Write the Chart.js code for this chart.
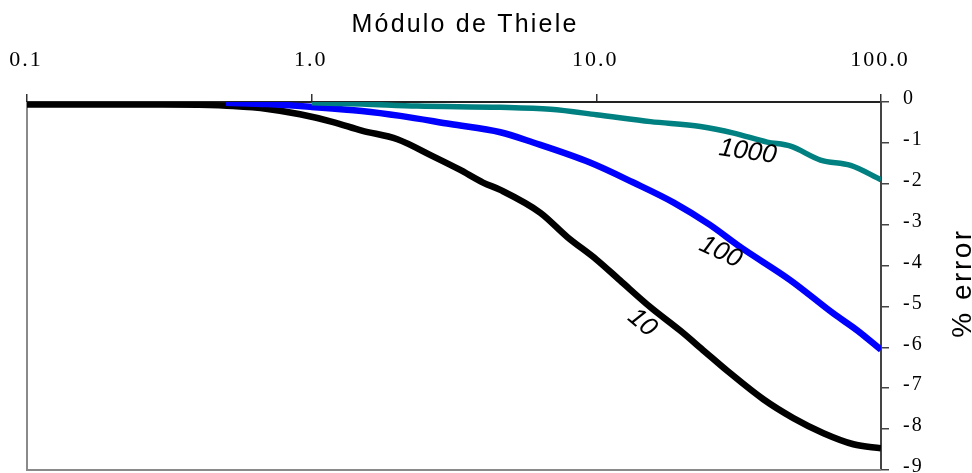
<!DOCTYPE html>
<html>
<head>
<meta charset="utf-8">
<script src="https://cdn.jsdelivr.net/npm/chart.js@4/dist/chart.umd.min.js"></script>
<style>
  html, body { margin: 0; padding: 0; background: #ffffff; }
  canvas { display: block; }
</style>
</head>
<body>
<canvas id="chart" width="972" height="473"></canvas>
<script>
// Thiele modulus (log scale) for each curve and the resulting % error
const phi10 = [0.1, 0.2, 0.3, 0.4, 0.53, 0.7, 0.91, 1.19, 1.5, 2.0, 2.67, 3.3, 4.0, 4.6, 6.36, 7.9, 10, 12.1, 15.5, 19.7, 24, 28.9, 38.6, 49.2, 62.8, 80, 100];
const err10 = [-0.06, -0.06, -0.06, -0.07, -0.1, -0.17, -0.3, -0.49, -0.7, -0.91, -1.33, -1.65, -1.97, -2.15, -2.71, -3.3, -3.85, -4.36, -5.02, -5.59, -6.1, -6.58, -7.27, -7.73, -8.1, -8.37, -8.47];

const phi100 = [0.5, 0.7, 1.0, 1.5, 2.05, 3.07, 4.6, 6.0, 9.5, 13.5, 18.7, 25, 32.1, 48.1, 68, 82.7, 100];
const err100 = [-0.02, -0.05, -0.12, -0.22, -0.34, -0.54, -0.74, -0.99, -1.48, -1.97, -2.46, -3.0, -3.55, -4.36, -5.17, -5.59, -6.06];

const phi1000 = [1.0, 1.5, 2.35, 4.6, 6.9, 10, 15.5, 23.2, 30.4, 39.8, 48.1, 61.3, 78.2, 100];
const err1000 = [-0.02, -0.05, -0.1, -0.13, -0.18, -0.31, -0.48, -0.6, -0.76, -0.98, -1.08, -1.42, -1.55, -1.9];

// Axis ticks
const xTickValues = [0.1, 1, 10, 100];
const xTickLabels = ['0.1', '1.0', '10.0', '100.0'];
const yTickValues = [0, -1, -2, -3, -4, -5, -6, -7, -8, -9];

// Curve labels, placed in data coordinates
const curveLabels = ['1000', '100', '10'];
const curveLabelX = [34.0, 27.3, 14.5];
const curveLabelY = [-1.22, -3.67, -5.4];
const curveLabelAngle = [8, 25, 40];

const toPoints = (xs, ys) => xs.map((x, i) => ({ x: x, y: ys[i] }));

const SERIF = "'Liberation Serif', 'Times New Roman', serif";
const SANS = "'Liberation Sans', Arial, sans-serif";

const framePlugin = {
  id: 'frame',
  beforeDraw(chart) {
    chart.ctx.letterSpacing = '2px';
  },
  beforeDatasetsDraw(chart) {
    const { ctx, chartArea: a } = chart;
    ctx.save();
    ctx.strokeStyle = '#8a8a8a';
    ctx.lineWidth = 2;
    ctx.beginPath();
    ctx.moveTo(a.left, a.top);
    ctx.lineTo(a.left, a.bottom);
    ctx.lineTo(a.right, a.bottom);
    ctx.stroke();
    ctx.restore();
  },
  afterDraw(chart) {
    const { ctx } = chart;
    const xs = chart.scales.x, ys = chart.scales.y;
    ctx.save();
    ctx.fillStyle = '#000000';

    // axis titles
    ctx.letterSpacing = '2.2px';
    ctx.font = '25px ' + SANS;
    ctx.textAlign = 'center';
    ctx.textBaseline = 'alphabetic';
    ctx.fillText('Módulo de Thiele', 465, 32);

    ctx.save();
    ctx.letterSpacing = '2.5px';
    ctx.font = '28px ' + SANS;
    ctx.translate(971, 283);
    ctx.rotate(-Math.PI / 2);
    ctx.fillText('% error', 0, 0);
    ctx.restore();

    // curve labels
    ctx.letterSpacing = '0px';
    ctx.font = 'italic 26px ' + SANS;
    ctx.textBaseline = 'middle';
    curveLabels.forEach((t, i) => {
      const px = xs.getPixelForValue(curveLabelX[i]);
      const py = ys.getPixelForValue(curveLabelY[i]);
      ctx.save();
      ctx.translate(px, py);
      ctx.rotate(curveLabelAngle[i] * Math.PI / 180);
      ctx.fillText(t, 0, 0);
      ctx.restore();
    });
    ctx.restore();
  }
};

new Chart(document.getElementById('chart'), {
  type: 'line',
  data: {
    datasets: [
      { label: '1000', data: toPoints(phi1000, err1000), borderColor: '#008080', borderWidth: 5.5 },
      { label: '100', data: toPoints(phi100, err100), borderColor: '#0000ff', borderWidth: 6.5 },
      { label: '10', data: toPoints(phi10, err10), borderColor: '#000000', borderWidth: 6.5 }
    ]
  },
  options: {
    responsive: false,
    animation: false,
    devicePixelRatio: 1,
    layout: { padding: { left: 27, right: 0, top: 0, bottom: 3 } },
    elements: {
      point: { radius: 0, hoverRadius: 0 },
      line: { cubicInterpolationMode: 'monotone', borderJoinStyle: 'round', fill: false }
    },
    datasets: { line: { clip: 0 } },
    plugins: { legend: { display: false }, tooltip: { enabled: false } },
    events: [],
    scales: {
      x: {
        type: 'logarithmic',
        position: 'top',
        min: 0.1,
        max: 100,
        afterBuildTicks(scale) { scale.ticks = xTickValues.map(v => ({ value: v })); },
        afterFit(scale) { scale.height = 102; scale.paddingLeft = 0; scale.paddingRight = 0; },
        grid: { drawOnChartArea: false, drawTicks: true, tickLength: 8, color: '#333333', lineWidth: 1.5 },
        border: { display: true, color: '#222222', width: 2 },
        ticks: {
          autoSkip: false,
          maxRotation: 0,
          padding: 21,
          labelOffset: -1,
          color: '#000000',
          font: { family: SERIF, size: 22 },
          callback: (v, i) => xTickLabels[i]
        }
      },
      y: {
        type: 'linear',
        position: 'right',
        min: -9,
        max: 0,
        afterBuildTicks(scale) { scale.ticks = yTickValues.map(v => ({ value: v })); },
        afterFit(scale) { scale.width = 91; scale.paddingTop = 0; scale.paddingBottom = 0; },
        grid: { drawOnChartArea: false, drawTicks: true, tickLength: 8, color: '#444444', lineWidth: 1.5 },
        border: { display: true, color: '#444444', width: 2 },
        ticks: {
          autoSkip: false,
          padding: 14,
          labelOffset: -3,
          color: '#000000',
          font: { family: SERIF, size: 20 },
          callback: v => String(v)
        }
      }
    }
  },
  plugins: [framePlugin]
});
</script>
</body>
</html>
